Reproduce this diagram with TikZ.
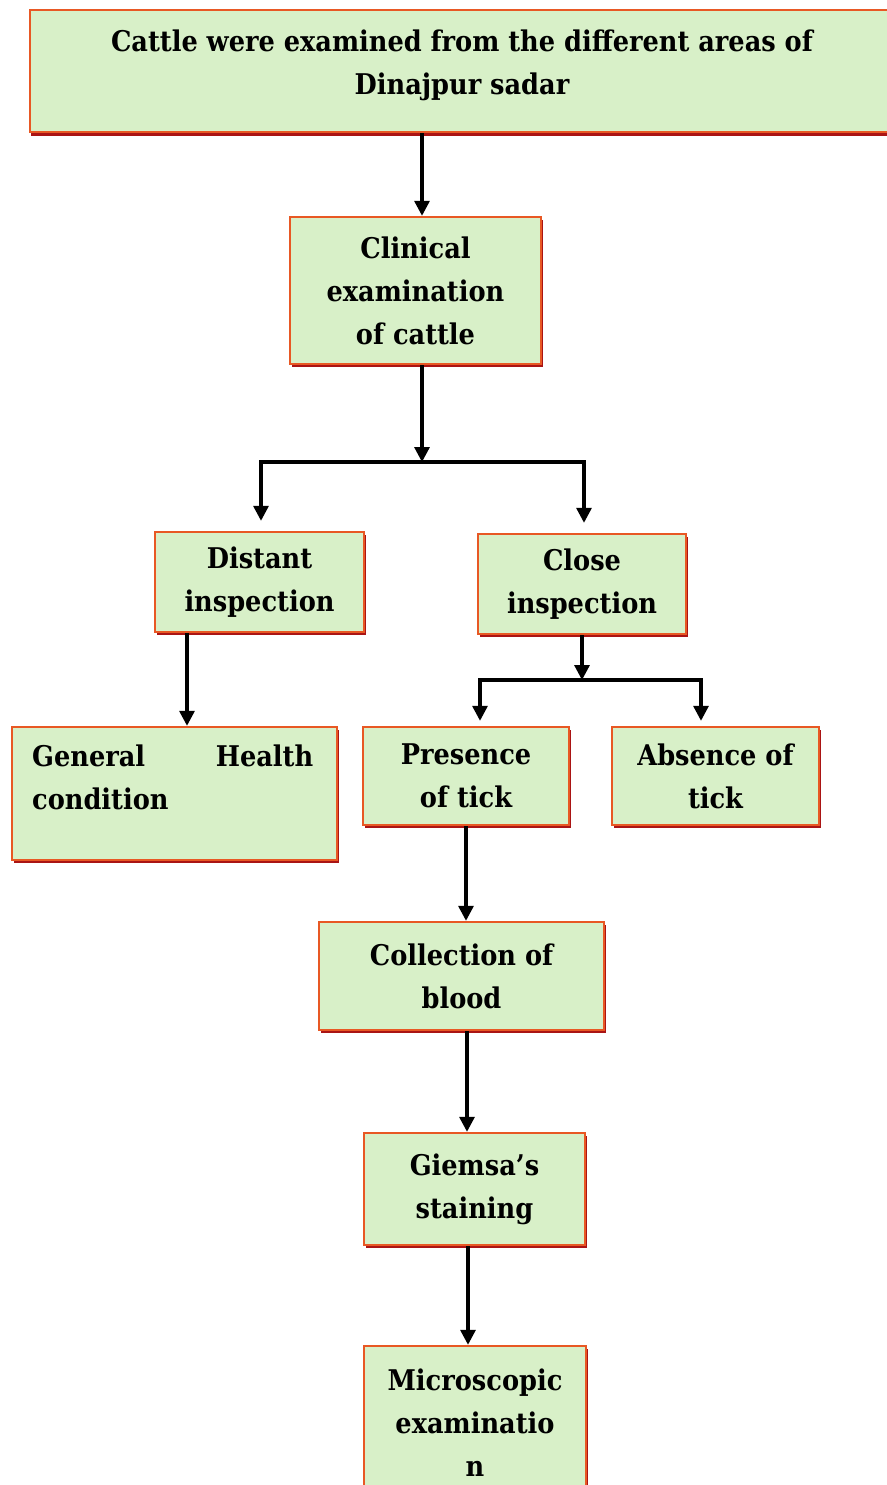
\documentclass[tikz,border=0pt]{standalone}
\usepackage{fontspec}
\setmainfont{DejaVu Serif Condensed}
\usetikzlibrary{arrows.meta,shadows}
\definecolor{boxfill}{RGB}{216,240,200}
\definecolor{boxedge}{RGB}{232,88,36}
\definecolor{boxshadow}{RGB}{170,20,20}
\tikzset{
  boxfont/.style={font=\fontsize{28.5}{43}\selectfont\bfseries},
  box/.style={draw=boxedge, line width=2.4pt, fill=boxfill, inner sep=0pt,
    general shadow={fill=boxshadow, shadow xshift=1.5pt, shadow yshift=-3pt},
    boxfont, align=center},
  txt/.style={boxfont, align=center, inner sep=0pt},
  arr/.style={line width=3.2pt, -{Triangle[length=15pt,width=15pt]}},
  ln/.style={line width=3.2pt},
}
\begin{document}
\begin{tikzpicture}[x=1pt,y=-1pt]
\useasboundingbox[fill=white] (0,0) rectangle (886,1485);
% boxes
\node[box, minimum width=860pt, minimum height=122pt,
  general shadow={fill=boxshadow, shadow xshift=1pt, shadow yshift=-4.5pt}] (top) at (460,71) {};
\node[txt] (toptext) at (462,65) {Cattle were examined from the different areas of\\Dinajpur sadar};
\node[box, minimum width=251pt, minimum height=147pt] (clin) at (415.5,290.5) {Clinical\\examination\\of cattle};
\node[box, minimum width=209pt, minimum height=100pt] (dist) at (259.5,582) {Distant\\inspection};
\node[box, minimum width=208pt, minimum height=100pt] (close) at (582,584) {Close\\inspection};
\node[box, minimum width=325pt, minimum height=133pt] (gen) at (174.5,793.5) {};
\node[txt, align=left, text width=281pt, anchor=north west] (gentext) at (32,745) {General\hfill Health\\condition};
\node[box, minimum width=206pt, minimum height=98pt] (pres) at (466,776) {Presence\\of tick};
\node[box, minimum width=207pt, minimum height=98pt] (abs) at (715.5,776) {Absence of\\tick};
\node[box, minimum width=285pt, minimum height=108pt] (coll) at (461.5,976) {Collection of\\blood};
\node[box, minimum width=221pt, minimum height=112pt] (gie) at (474.5,1189) {Giemsa’s\\staining};
\node[box, minimum width=222pt, minimum height=154pt] (mic) at (475,1423) {Microscopic\\examinatio\\n};
% junction coordinates
\coordinate (j1) at (422,462);
\coordinate (jl) at (261,462);
\coordinate (jr) at (584,462);
\coordinate (dg) at (187,0);
\coordinate (j2) at (582,680);
\coordinate (kl) at (480,680);
\coordinate (kr) at (701,680);
\coordinate (c2) at (467,0);
\coordinate (c3) at (468,0);
% connectors
\draw[arr] (top.south -| j1) -- (clin.north -| j1);
\draw[arr] (clin.south -| j1) -- (j1);
\draw[ln] ([xshift=-1.6pt]jl) -- ([xshift=1.6pt]jr);
\draw[arr, shorten >=10pt] (jl) -- (dist.north -| jl);
\draw[arr, shorten >=10pt] (jr) -- (close.north -| jr);
\draw[arr] (dist.south -| dg) -- (gen.north -| dg);
\draw[arr] (close.south) -- (j2);
\draw[ln] ([xshift=-1.6pt]kl) -- ([xshift=1.6pt]kr);
\draw[arr, shorten >=5pt] (kl) -- (pres.north -| kl);
\draw[arr, shorten >=5pt] (kr) -- (abs.north -| kr);
\draw[arr] (pres.south) -- (pres.south |- coll.north);
\draw[arr] (coll.south -| c2) -- (gie.north -| c2);
\draw[arr] (gie.south -| c3) -- (mic.north -| c3);
\end{tikzpicture}
\end{document}
